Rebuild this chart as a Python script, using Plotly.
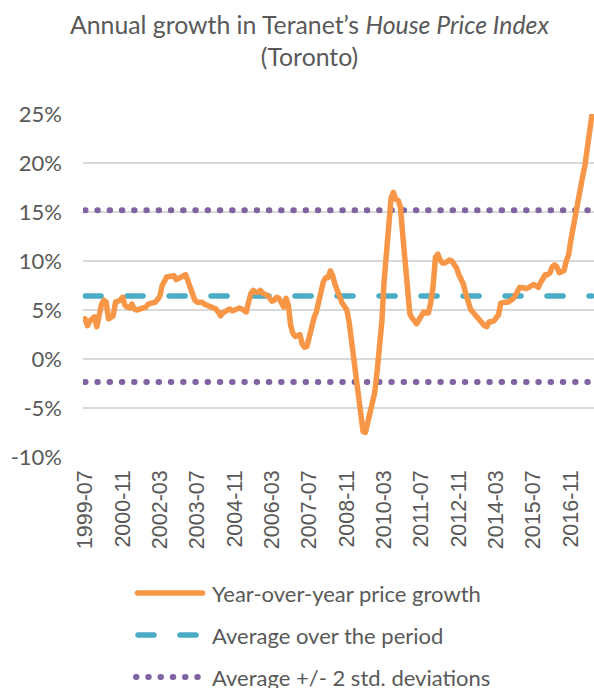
import plotly.graph_objects as go
import pandas as pd

# ---- data ----
start_month = "1999-07-01"
yoy_growth = [
    4.1, 3.4, 3.9, 4.2, 4.3, 3.3, 4.5, 5.6, 6.0, 5.8, 4.1, 4.2,
    4.4, 5.8, 5.9, 6.0, 6.3, 5.5, 5.3, 5.2, 5.6, 5.1, 5.0, 5.1,
    5.1, 5.2, 5.3, 5.6, 5.7, 5.8, 5.8, 6.1, 6.4, 7.5, 8.1, 8.4,
    8.4, 8.5, 8.5, 8.1, 8.2, 8.3, 8.5, 8.6, 8.0, 7.3, 6.7, 6.0,
    5.8, 5.8, 5.8, 5.6, 5.5, 5.3, 5.2, 5.1, 5.1, 4.8, 4.4, 4.7,
    4.9, 5.0, 5.1, 4.9, 5.0, 5.1, 5.2, 5.1, 5.0, 4.8, 5.8, 6.7,
    7.0, 6.8, 6.8, 7.0, 6.7, 6.6, 6.5, 6.2, 5.9, 6.0, 6.3, 6.2,
    5.8, 5.3, 6.2, 5.5, 3.4, 2.6, 2.3, 2.4, 2.5, 1.5, 1.2, 1.3,
    2.4, 3.4, 4.2, 4.8, 5.8, 7.0, 7.9, 8.3, 8.3, 9.0, 8.5, 7.6,
    6.9, 6.0, 5.7, 5.4, 5.0, 3.8, 1.8, 0.3, -1.2, -3.3, -5.8, -7.4,
    -7.5, -6.5, -5.5, -4.4, -3.4, -1.3, 1.0, 3.8, 7.8, 11.3, 14.5, 16.4,
    17.0, 16.3, 16.2, 15.5, 12.6, 9.7, 6.5, 4.6, 4.2, 3.9, 3.6, 4.0,
    4.3, 4.8, 4.7, 4.7, 5.8, 7.4, 10.4, 10.7, 10.1, 9.8, 9.8, 9.9,
    10.1, 10.0, 9.7, 9.3, 8.6, 8.2, 7.6, 6.6, 5.6, 5.1, 4.8, 4.5,
    4.2, 3.9, 3.6, 3.4, 3.3, 3.8, 3.8, 3.9, 4.2, 4.5, 5.7, 5.8,
    5.8, 5.8, 5.9, 6.1, 6.4, 6.8, 7.3, 7.3, 7.2, 7.2, 7.3, 7.4,
    7.6, 7.5, 7.3, 7.8, 8.2, 8.6, 8.6, 8.8, 9.4, 9.6, 9.4, 8.8,
    8.9, 9.0, 10.0, 10.6, 12.2, 13.6, 14.9, 16.5, 17.4, 18.6, 19.7, 21.4,
    23.2, 24.9,
]
average_level = 6.43
upper_band = 15.17
lower_band = -2.35

tick_labels = ["1999-07", "2000-11", "2002-03", "2003-07", "2004-11", "2006-03",
               "2007-07", "2008-11", "2010-03", "2011-07", "2012-11", "2014-03",
               "2015-07", "2016-11"]
y_ticks = [-10, -5, 0, 5, 10, 15, 20, 25]

series_names = ["Year-over-year price growth", "Average over the period",
                "Average +/- 2 std. deviations"]
title_text = "Annual growth in Teranet’s <i>House Price Index</i><br>(Toronto)"

months = pd.date_range(start_month, periods=len(yoy_growth), freq="MS")

ORANGE = "#F79646"
TEAL = "#4BACC6"
PURPLE = "#8064A2"
GREY_TXT = "#595959"
GRID = "#D9D9D9"
DOT = "0.5px,11.75px"
DASH = "16px,26px"

fig = go.Figure()
fig.add_trace(go.Scatter(x=months, y=[upper_band] * len(months), mode="lines",
                         line=dict(color=PURPLE, width=6, dash=DOT),
                         name=series_names[2], hoverinfo="skip"))
fig.add_trace(go.Scatter(x=months, y=[lower_band] * len(months), mode="lines",
                         line=dict(color=PURPLE, width=6, dash=DOT),
                         name=series_names[2], hoverinfo="skip"))
fig.add_trace(go.Scatter(x=months, y=[average_level] * len(months), mode="lines",
                         line=dict(color=TEAL, width=5.5, dash=DASH),
                         name=series_names[1]))
fig.add_trace(go.Scatter(x=months, y=yoy_growth, mode="lines",
                         line=dict(color=ORANGE, width=5.5),
                         name=series_names[0]))

# ---- geometry (pixels) ----
W, H = 594, 688
L, R, T, B = 83, 0, 114, 231
pw, ph = W - L - R, H - T - B


def px_x(x):
    return (x - L) / pw


def px_y(y):
    return (H - B - y) / ph


# ---- title ----
fig.add_annotation(xref="paper", yref="paper", x=px_x(309), y=px_y(41),
                   xanchor="center", yanchor="middle", showarrow=False,
                   text=title_text, align="center",
                   font=dict(family="Lato", size=24.8, color=GREY_TXT))

# ---- custom legend ----
rows = [593, 635, 677]
legend_styles = [
    dict(color=ORANGE, width=5.5, dash="solid", x0=137.5, x1=202.5),
    dict(color=TEAL, width=5.5, dash=DASH, x0=138, x1=197),
    dict(color=PURPLE, width=6, dash=DOT, x0=136, x1=199),
]
for ry, st, name in zip(rows, legend_styles, series_names):
    fig.add_shape(type="line", xref="paper", yref="paper",
                  x0=px_x(st["x0"]), x1=px_x(st["x1"]), y0=px_y(ry), y1=px_y(ry),
                  line=dict(color=st["color"], width=st["width"], dash=st["dash"]))
    fig.add_annotation(xref="paper", yref="paper", x=px_x(210), y=px_y(ry),
                       xanchor="left", yanchor="middle", showarrow=False,
                       text=name, font=dict(family="Lato", size=22, color=GREY_TXT))

fig.update_layout(
    width=W, height=H,
    margin=dict(l=L, r=R, t=T, b=B),
    paper_bgcolor="white", plot_bgcolor="white",
    showlegend=False,
    xaxis=dict(
        type="date",
        range=["1999-06-04", "2017-08-28"],
        tickvals=pd.to_datetime(tick_labels),
        ticktext=tick_labels,
        tickangle=-90,
        showgrid=False, zeroline=False, showline=False, ticks="",
        ticklabelstandoff=8,
        tickfont=dict(family="Liberation Sans Narrow, Arial Narrow, Liberation Sans",
                      size=21.5, color=GREY_TXT),
    ),
    yaxis=dict(
        range=[-10, 25],
        tickvals=y_ticks,
        ticktext=[f"{v}%" for v in y_ticks],
        showgrid=True, gridcolor=GRID, gridwidth=1.5,
        zeroline=False, showline=False, ticks="",
        ticklabelstandoff=20,
        tickfont=dict(family="Lato", size=22, color=GREY_TXT),
    ),
)

post = """
document.documentElement.style.margin = '0';
document.body.style.margin = '0';
document.body.style.overflow = 'hidden';
var gd = document.getElementById('{plot_id}');
gd.querySelectorAll('.scatterlayer path.js-line, .shapelayer path').forEach(function(p){
  p.style.strokeLinecap = 'round';
  p.style.strokeLinejoin = 'round';
});
"""
fig.write_html("out.html", post_script=post, config={"displayModeBar": False})
